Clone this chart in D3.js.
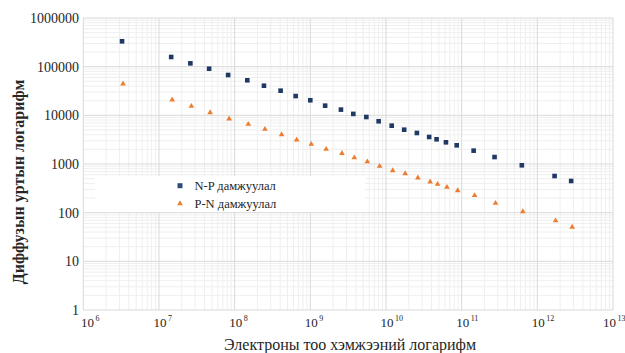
<!DOCTYPE html>
<html>
<head>
<meta charset="utf-8">
<script src="https://cdn.jsdelivr.net/npm/d3@7"></script>
<style>
  html, body { margin: 0; padding: 0; background: #fff; }
  svg { display: block; font-family: "Liberation Serif", "Times New Roman", serif; }
</style>
</head>
<body>
<svg id="chart" width="625" height="353"></svg>
<script>
// Electron count (x) and diffusion length (y) for the two junction types
const electronCounts = [3.25e6, 1.45e7, 2.6e7, 4.6e7, 8.2e7, 1.47e8, 2.44e8, 4.05e8, 6.4e8, 1.0e9,
  1.57e9, 2.54e9, 3.7e9, 5.5e9, 8.0e9, 1.19e10, 1.74e10, 2.56e10, 3.72e10, 4.66e10,
  6.2e10, 8.6e10, 1.44e11, 2.72e11, 6.24e11, 1.69e12, 2.8e12];
const npJunction = [332000, 158000, 117000, 90800, 67400, 52500, 40600, 32100, 24900, 20400,
  15800, 13100, 10700, 9250, 7550, 6130, 5070, 4340, 3590, 3220,
  2790, 2420, 1880, 1390, 940, 567, 448];
const pnJunction = [45500, 21400, 15800, 11700, 8700, 6730, 5310, 4130, 3220, 2610,
  2060, 1700, 1380, 1140, 923, 753, 653, 533, 441, 394,
  342, 292, 231, 160, 108, 70, 52];
const seriesNames = ["N-P дамжуулал", "P-N дамжуулал"];
const xExponents = [6, 7, 8, 9, 10, 11, 12, 13];
const yTickLabels = ["1", "10", "100", "1000", "10000", "100000", "1000000"];
const xTitle = "Электроны тоо хэмжээний логарифм";
const yTitle = "Диффузын уртын логарифм";

const svg = d3.select("#chart");
const plot = { left: 83.3, right: 613, top: 18, bottom: 310 };

const x = d3.scaleLog().domain([1e6, 1e13]).range([plot.left, plot.right]);
const y = d3.scaleLog().domain([1, 1e6]).range([plot.bottom, plot.top]);

// minor grid values (2..9 inside each decade)
function minorVals(lo, hi) {
  const out = [];
  for (let e = lo; e < hi; e++) for (let m = 2; m <= 9; m++) out.push(m * Math.pow(10, e));
  return out;
}
const g = svg.append("g");
g.selectAll(".vminor").data(minorVals(6, 13)).enter().append("line")
  .attr("x1", d => x(d)).attr("x2", d => x(d))
  .attr("y1", plot.top).attr("y2", plot.bottom)
  .attr("stroke", "#efefef").attr("stroke-width", 1);
g.selectAll(".hminor").data(minorVals(0, 6)).enter().append("line")
  .attr("y1", d => y(d)).attr("y2", d => y(d))
  .attr("x1", plot.left).attr("x2", plot.right)
  .attr("stroke", "#efefef").attr("stroke-width", 1);
g.selectAll(".vmajor").data(xExponents.map(e => Math.pow(10, e))).enter().append("line")
  .attr("x1", d => x(d)).attr("x2", d => x(d))
  .attr("y1", plot.top).attr("y2", plot.bottom)
  .attr("stroke", "#d9d9d9").attr("stroke-width", 1);
g.selectAll(".hmajor").data(yTickLabels.map(Number)).enter().append("line")
  .attr("y1", d => y(d)).attr("y2", d => y(d))
  .attr("x1", plot.left).attr("x2", plot.right)
  .attr("stroke", "#d9d9d9").attr("stroke-width", 1);

// legend panel (white fill hides the grid behind it)
svg.append("rect").attr("x", 95).attr("y", 176).attr("width", 270).attr("height", 36)
  .attr("fill", "#fff");

// y tick labels
svg.append("g").selectAll("text").data(yTickLabels).enter().append("text")
  .attr("x", 79).attr("y", d => y(+d) + 5)
  .attr("text-anchor", "end").attr("font-size", 14).attr("fill", "#262626")
  .text(d => d);

// x tick labels: 10 with a superscript exponent; the last one is pulled in to stay on the page
const lastIdx = xExponents.length - 1;
const xl = svg.append("g").selectAll("text").data(xExponents).enter().append("text")
  .attr("x", (d, i) => x(Math.pow(10, d)) + (i === 0 ? -2.3 : i === lastIdx ? -10 : -5.5))
  .attr("y", 327).attr("font-size", 13).attr("fill", "#262626");
xl.append("tspan").text("10");
xl.append("tspan").attr("dx", 1.5).attr("dy", -6).attr("font-size", 8).text(d => d);

// axis titles
svg.append("text").attr("x", 350).attr("y", 349.5).attr("text-anchor", "middle")
  .attr("font-size", 16).attr("fill", "#262626").text(xTitle);
svg.append("text").attr("transform", "translate(24,182) rotate(-90)")
  .attr("text-anchor", "middle").attr("font-size", 16).attr("font-weight", "bold")
  .attr("fill", "#262626").text(yTitle);

const navy = "#203864", orange = "#ed7d31";
const tri = d3.symbol().type(d3.symbolTriangle).size(14);

// N-P series: squares
svg.append("g").selectAll("rect").data(electronCounts).enter().append("rect")
  .attr("x", d => x(d) - 2.3).attr("y", (d, i) => y(npJunction[i]) - 2.3)
  .attr("width", 4.6).attr("height", 4.6).attr("fill", navy);

// P-N series: triangles
svg.append("g").selectAll("path").data(electronCounts).enter().append("path")
  .attr("d", tri)
  .attr("transform", (d, i) => `translate(${x(d) + 1},${y(pnJunction[i]) + 0.5})`)
  .attr("fill", orange);

// legend entries
const leg = svg.append("g");
leg.append("rect").attr("x", 177.5).attr("y", 183.2).attr("width", 5).attr("height", 5).attr("fill", "#2f4b7c");
leg.append("path").attr("d", tri).attr("transform", "translate(180,203.5)").attr("fill", orange);
leg.selectAll("text").data(seriesNames).enter().append("text")
  .attr("x", 194.5).attr("y", (d, i) => 190 + i * 17.5)
  .attr("font-size", 12.5).attr("fill", "#262626").text(d => d);
</script>
</body>
</html>
